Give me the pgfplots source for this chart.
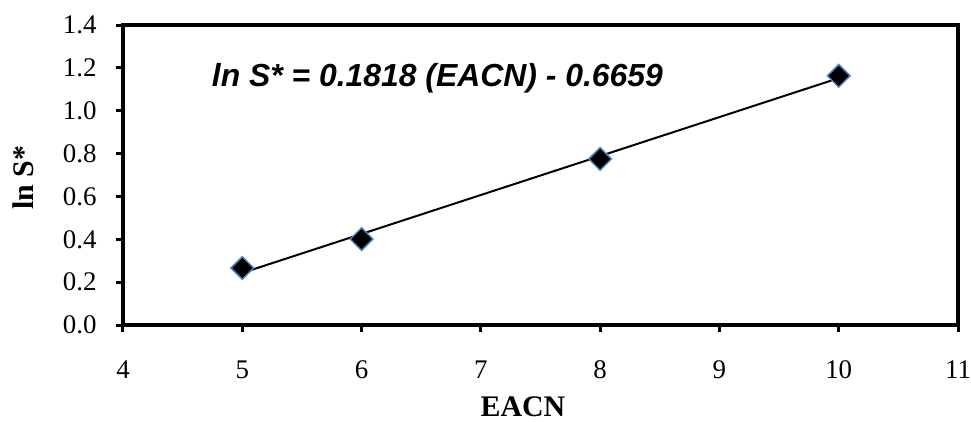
\documentclass[border=0pt]{standalone}
\usepackage{fontspec}
\setmainfont{Liberation Serif}
\newfontfamily\arialfont{Liberation Sans}
\usepackage{pgfplots}
\pgfplotsset{compat=1.18}
\definecolor{mkblue}{RGB}{79,129,189}
\begin{document}
\begin{tikzpicture}[x=1bp,y=1bp]
\useasboundingbox (-123,-96) rectangle (848,325);
\begin{axis}[
  at={(0,0)}, anchor=south west,
  scale only axis, width=835bp, height=300bp,
  xmin=4, xmax=11, ymin=0, ymax=1.4,
  xtick={4,5,...,11},
  ytick={0,0.2,...,1.4},
  yticklabel style={/pgf/number format/fixed,/pgf/number format/fixed zerofill,/pgf/number format/precision=1},
  /pgf/number format/assume math mode=true,
  tick label style={font=\fontsize{27}{32}\selectfont},
  xticklabel style={yshift=-25bp},
  yticklabel style={xshift=-16bp},
  axis line style={line width=4bp},
  tick style={line width=3bp, black},
  major tick length=7bp,
  tick pos=left, tick align=outside,
  xlabel={\textbf{EACN}}, ylabel={\textbf{ln S*}},
  label style={font=\fontsize{30}{36}\selectfont},
  xlabel style={at={(rel axis cs:0.479,-0.272)}, anchor=center},
  ylabel style={at={(rel axis cs:-0.120,0.49)}, anchor=center},
  clip=false,
]
\addplot[black, line width=2bp] coordinates {(5,0.2431) (10,1.1521)};
\addplot[only marks, mark=square*, mark size=8bp,
  mark options={rotate=45, fill=black, draw=mkblue, line width=1.5bp}]
  coordinates {(5,0.266) (6,0.401) (8,0.775) (10,1.163)};
\node[anchor=base, font=\arialfont\bfseries\itshape\fontsize{32}{38}\selectfont] at (axis cs:6.636,1.115) {ln S* = 0.1818 (EACN) - 0.6659};
\end{axis}
\end{tikzpicture}
\end{document}
